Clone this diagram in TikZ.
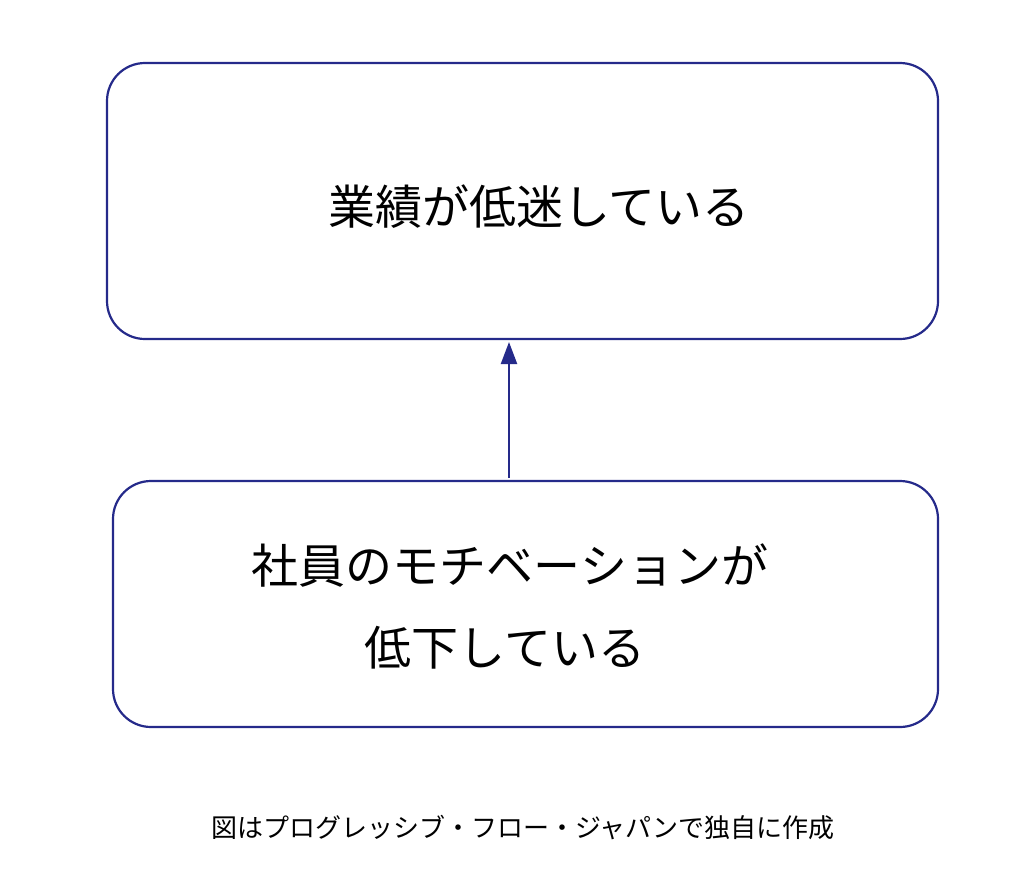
\documentclass[tikz,border=0pt]{standalone}
\usepackage{fontspec}
\newfontfamily\cjk{Noto Sans CJK JP}
\usetikzlibrary{arrows.meta}
\definecolor{navy}{HTML}{252A8A}
\begin{document}
\begin{tikzpicture}[x=1pt,y=-1pt,
  box/.style={draw=navy,line width=2.2pt,rounded corners=38pt},
  big/.style={font=\cjk\fontsize{47}{56}\selectfont,inner sep=0pt}]
\useasboundingbox (0,0) rectangle (1024,875);
\draw[box] (107,63) rectangle (938,339);
\draw[box] (113,481) rectangle (938,727);
\node[big] (top) at (539,207) {業績が低迷している};
\node[big] (l1) at (510,566) {社員のモチベーションが};
\node[big] (l2) at (505,648) {低下している};
\coordinate (a) at (509,478);
\coordinate (b) at (509,342);
\draw[navy,line width=2.2pt,-{Triangle[length=22pt,width=16pt]}] (a) -- (b);
\node[font=\cjk\fontsize{26}{30}\selectfont] (cap) at (523,828) {図はプログレッシブ・フロー・ジャパンで独自に作成};
\end{tikzpicture}
\end{document}
